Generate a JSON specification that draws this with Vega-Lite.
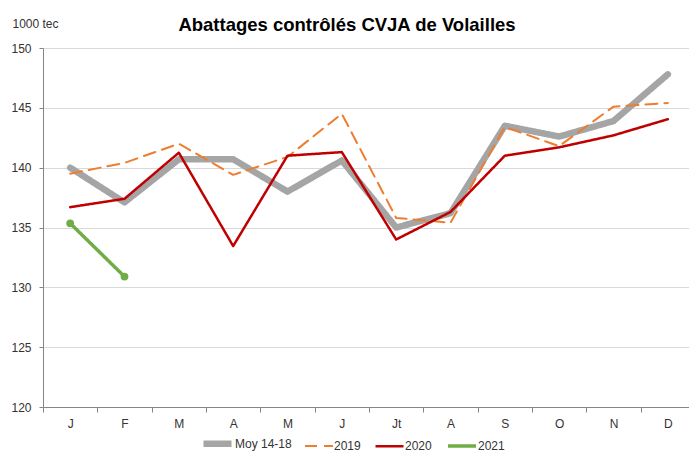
{
  "$schema": "https://vega.github.io/schema/vega-lite/v6.json",
  "width": 646,
  "height": 359,
  "autosize": "none",
  "padding": {"left": 43, "top": 48, "right": 0, "bottom": 47},
  "background": "white",
  "title": {
    "text": "Abattages contrôlés CVJA de Volailles",
    "font": "Liberation Sans",
    "fontSize": 18.5,
    "fontWeight": "bold",
    "color": "#000000",
    "anchor": "middle",
    "dx": -19,
    "offset": -17
  },
  "config": {
    "view": {"stroke": null},
    "font": "Liberation Sans"
  },
  "data": {
    "values": [
      {"m": 1, "series": "Moy 14-18", "value": 140.0},
      {"m": 2, "series": "Moy 14-18", "value": 137.1},
      {"m": 3, "series": "Moy 14-18", "value": 140.7},
      {"m": 4, "series": "Moy 14-18", "value": 140.7},
      {"m": 5, "series": "Moy 14-18", "value": 138.0},
      {"m": 6, "series": "Moy 14-18", "value": 140.6},
      {"m": 7, "series": "Moy 14-18", "value": 135.0},
      {"m": 8, "series": "Moy 14-18", "value": 136.2},
      {"m": 9, "series": "Moy 14-18", "value": 143.5},
      {"m": 10, "series": "Moy 14-18", "value": 142.6},
      {"m": 11, "series": "Moy 14-18", "value": 143.9},
      {"m": 12, "series": "Moy 14-18", "value": 147.8},
      {"m": 1, "series": "2019", "value": 139.5},
      {"m": 2, "series": "2019", "value": 140.4},
      {"m": 3, "series": "2019", "value": 142.0},
      {"m": 4, "series": "2019", "value": 139.4},
      {"m": 5, "series": "2019", "value": 140.9},
      {"m": 6, "series": "2019", "value": 144.5},
      {"m": 7, "series": "2019", "value": 135.8},
      {"m": 8, "series": "2019", "value": 135.4},
      {"m": 9, "series": "2019", "value": 143.4},
      {"m": 10, "series": "2019", "value": 141.8},
      {"m": 11, "series": "2019", "value": 145.1},
      {"m": 12, "series": "2019", "value": 145.4},
      {"m": 1, "series": "2020", "value": 136.7},
      {"m": 2, "series": "2020", "value": 137.4},
      {"m": 3, "series": "2020", "value": 141.25},
      {"m": 4, "series": "2020", "value": 133.45},
      {"m": 5, "series": "2020", "value": 141.0},
      {"m": 6, "series": "2020", "value": 141.3},
      {"m": 7, "series": "2020", "value": 134.0},
      {"m": 8, "series": "2020", "value": 136.3},
      {"m": 9, "series": "2020", "value": 141.0},
      {"m": 10, "series": "2020", "value": 141.7},
      {"m": 11, "series": "2020", "value": 142.7},
      {"m": 12, "series": "2020", "value": 144.05},
      {"m": 1, "series": "2021", "value": 135.35},
      {"m": 2, "series": "2021", "value": 130.9}
    ]
  },
  "encoding": {
    "x": {
      "field": "m",
      "type": "ordinal",
      "sort": "ascending",
      "scale": {"type": "band", "range": [0, 652], "paddingInner": 0, "paddingOuter": 0},
      "axis": {
        "title": null,
        "labelExpr": "['J','F','M','A','M','J','Jt','A','S','O','N','D'][datum.value - 1]",
        "labelAngle": 0,
        "tickBand": "extent",
        "tickSize": 5,
        "tickColor": "#868686",
        "domainColor": "#868686",
        "labelFontSize": 12,
        "labelColor": "#333333",
        "labelPadding": 6,
        "grid": false
      }
    },
    "y": {
      "field": "value",
      "type": "quantitative",
      "scale": {"domain": [120, 150], "nice": false, "zero": false},
      "axis": {
        "title": "1000 tec",
        "titleAngle": 0,
        "titleAlign": "left",
        "titleBaseline": "alphabetic",
        "titleX": -31,
        "titleY": -21,
        "titleFontSize": 12,
        "titleFontWeight": "normal",
        "titleColor": "#333333",
        "values": [120, 125, 130, 135, 140, 145, 150],
        "grid": true,
        "gridColor": "#D9D9D9",
        "domainColor": "#868686",
        "tickColor": "#868686",
        "tickSize": 4,
        "labelPadding": 8,
        "labelFontSize": 12,
        "labelColor": "#333333"
      }
    }
  },
  "layer": [
    {
      "mark": {"type": "line", "strokeCap": "round", "strokeJoin": "round"},
      "encoding": {
        "color": {
          "field": "series",
          "type": "nominal",
          "scale": {
            "domain": ["Moy 14-18", "2019", "2020", "2021"],
            "range": ["#A5A5A5", "#ED7D31", "#C00000", "#70AD47"]
          },
          "legend": {
            "title": null,
            "orient": "none",
            "direction": "horizontal",
            "legendX": 157,
            "legendY": 378,
            "symbolType": "stroke",
            "symbolSize": 784,
            "labelFontSize": 12,
            "labelColor": "#333333",
            "labelOffset": 0,
            "columnPadding": 9,
            "padding": 0
          }
        },
        "strokeDash": {
          "field": "series",
          "type": "nominal",
          "scale": {
            "domain": ["Moy 14-18", "2019", "2020", "2021"],
            "range": [[1, 0], [12, 7], [1, 0], [1, 0]]
          }
        },
        "strokeWidth": {
          "field": "series",
          "type": "nominal",
          "scale": {
            "type": "ordinal",
            "domain": ["Moy 14-18", "2019", "2020", "2021"],
            "range": [6.5, 2, 2.5, 3.5]
          }
        }
      }
    },
    {
      "transform": [{"filter": "datum.series === '2021'"}],
      "mark": {"type": "point", "filled": true, "size": 60, "opacity": 1, "color": "#70AD47"},
      "encoding": {}
    }
  ]
}
